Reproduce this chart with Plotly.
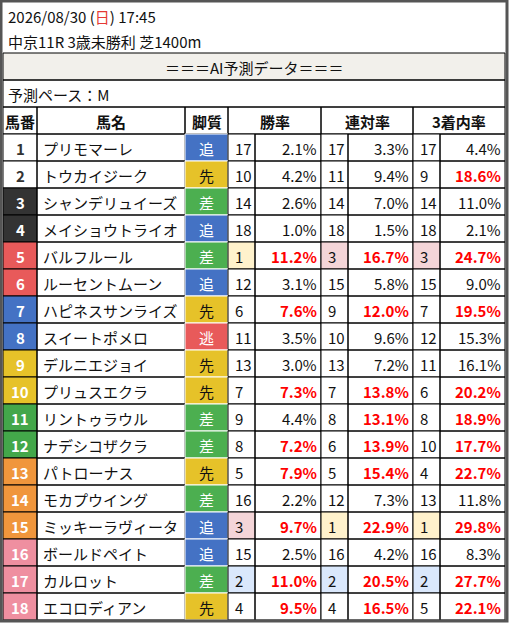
import plotly.graph_objects as go

date_line = "2026/08/30 (<span style='color:#e53935'>日</span>) 17:45"
race_line = "中京11R 3歳未勝利 芝1400m"
pace = "予測ペース：M"

nums = list(range(1, 19))
names = ["プリモマーレ", "トウカイジーク", "シャンデリュイーズ", "メイショウトライオ", "バルフルール",
         "ルーセントムーン", "ハピネスサンライズ", "スイートポメロ", "デルニエジョイ", "プリュスエクラ",
         "リントゥラウル", "ナデシコザクラ", "パトローナス", "モカプウイング", "ミッキーラヴィータ",
         "ボールドペイト", "カルロット", "エコロディアン"]
styles = ["追", "先", "差", "追", "差", "追", "先", "逃", "先", "先", "差", "差", "先", "差", "追", "追", "差", "先"]
win_rank = [17, 10, 14, 18, 1, 12, 6, 11, 13, 7, 9, 8, 5, 16, 3, 15, 2, 4]
win_pct = [2.1, 4.2, 2.6, 1.0, 11.2, 3.1, 7.6, 3.5, 3.0, 7.3, 4.4, 7.2, 7.9, 2.2, 9.7, 2.5, 11.0, 9.5]
ren_rank = [17, 11, 14, 18, 3, 15, 9, 10, 13, 7, 8, 6, 5, 12, 1, 16, 2, 4]
ren_pct = [3.3, 9.4, 7.0, 1.5, 16.7, 5.8, 12.0, 9.6, 7.2, 13.8, 13.1, 13.9, 15.4, 7.3, 22.9, 4.2, 20.5, 16.5]
fuku_rank = [17, 9, 14, 18, 3, 15, 7, 12, 11, 6, 8, 10, 4, 13, 1, 16, 2, 5]
fuku_pct = [4.4, 18.6, 11.0, 2.1, 24.7, 9.0, 19.5, 15.3, 16.1, 20.2, 18.9, 17.7, 22.7, 11.8, 29.8, 8.3, 27.7, 22.1]

FONT = "Noto Sans CJK JP"
waku_bg = {1: "#ffffff", 2: "#ffffff", 3: "#333333", 4: "#333333", 5: "#e85a5a", 6: "#e85a5a",
           7: "#4472c4", 8: "#4472c4", 9: "#e6c229", 10: "#e6c229", 11: "#43a74a", 12: "#43a74a",
           13: "#f0963c", 14: "#f0963c", 15: "#f0963c", 16: "#ef8fa0", 17: "#ef8fa0", 18: "#ef8fa0"}
style_bg = {"追": "#4472c4", "先": "#e6c229", "差": "#4caf50", "逃": "#e85a5a"}
rank_bg = {1: "#fff2cc", 2: "#dae8fc", 3: "#f4d5d8"}

fig = go.Figure()
shapes, ann = [], []

def rect(x0, y0, x1, y1, fill="rgba(0,0,0,0)", lw=1, lc="#000"):
    shapes.append(dict(type="rect", x0=x0, x1=x1, y0=y0, y1=y1, fillcolor=fill,
                       line=dict(color=lc, width=lw), layer="below"))

def text(x, y, s, size=15, color="#111", bold=False, anchor="center"):
    ann.append(dict(x=x, y=y, text=f"<b>{s}</b>" if bold else s, showarrow=False, xanchor=anchor,
                    yanchor="middle", font=dict(family=FONT, size=size, color=color)))

L, R = 3, 505
text(6, 16, date_line, anchor="left")
text(6, 41, race_line, anchor="left")
rect(L, 53, R, 80, fill="#f2f0eb")
text(254, 67, "＝＝＝AI予測データ＝＝＝")
rect(L, 80, R, 107)
text(6, 94, pace, anchor="left")

cols = [L, 37, 185, 228, 255, 321, 348, 413, 440, R]
top, rh = 107, 27
heads = [("馬番", 0, 1), ("馬名", 1, 2), ("脚質", 2, 3), ("勝率", 3, 5), ("連対率", 5, 7), ("3着内率", 7, 9)]
for h, a, b in heads:
    rect(cols[a], top, cols[b], top + rh)
    text((cols[a] + cols[b]) / 2, top + rh / 2 + 1, h, bold=True)

thresholds = [5.0, 10.0, 17.0]
for i in range(18):
    y0 = top + rh * (i + 1)
    y1 = y0 + rh
    yc = (y0 + y1) / 2 + 1
    n = nums[i]
    rect(cols[0], y0, cols[1], y1, fill=waku_bg[n])
    text((cols[0] + cols[1]) / 2, yc, str(n), bold=True, color="#333" if n <= 2 else "#fff")
    rect(cols[1], y0, cols[2], y1)
    text(cols[1] + 4, yc, names[i], anchor="left")
    st = styles[i]
    rect(cols[2], y0, cols[3], y1, fill=style_bg[st], lc="#fff")
    text((cols[2] + cols[3]) / 2, yc, st, color="#111" if st == "先" else "#fff")
    for k, (rk, pc) in enumerate([(win_rank, win_pct), (ren_rank, ren_pct), (fuku_rank, fuku_pct)]):
        a, b, c = cols[3 + 2 * k], cols[4 + 2 * k], cols[5 + 2 * k]
        rect(a, y0, b, y1, fill=rank_bg.get(rk[i], "#fff"))
        text(a + 5, yc, str(rk[i]), anchor="left")
        rect(b, y0, c, y1)
        red = pc[i] >= thresholds[k]
        text(c - 2, yc, f"{pc[i]:.1f}%", color="#ff0000" if red else "#111", bold=red, anchor="right")

rect(1, 1, 507, 621, lw=3, lc="#555")

fig.update_layout(width=509, height=623, margin=dict(l=0, r=0, t=0, b=0),
                  plot_bgcolor="#fff", paper_bgcolor="#fff", shapes=shapes, annotations=ann,
                  xaxis=dict(range=[0, 509], visible=False, fixedrange=True),
                  yaxis=dict(range=[623, 0], visible=False, fixedrange=True), showlegend=False)
fig.write_html("out.html", config={"displayModeBar": False},
               post_script="document.body.style.margin='0';document.body.style.overflow='hidden';")
